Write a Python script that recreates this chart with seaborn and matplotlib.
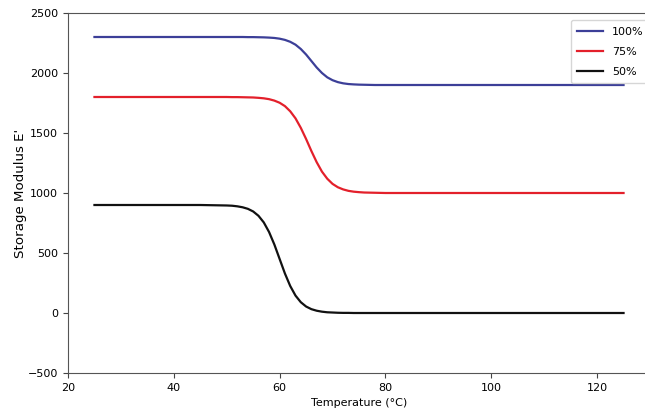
import matplotlib
matplotlib.use("Agg")
import matplotlib.pyplot as plt
import seaborn as sns
import pandas as pd

# temperature samples (deg C)
temperature = [25, 30, 35, 40, 45,
               50, 51, 52, 53, 54, 55, 56, 57, 58, 59,
               60, 61, 62, 63, 64, 65, 66, 67, 68, 69,
               70, 71, 72, 73, 74, 75, 76, 77, 78, 79, 80,
               85, 90, 95, 100, 105, 110, 115, 120, 125]

modulus_100 = [2300, 2300, 2300, 2300, 2300,
               2300, 2300, 2300, 2300, 2299, 2299, 2298, 2297, 2295, 2292,
               2286, 2276, 2260, 2236, 2200, 2154, 2100, 2046, 2000, 1964,
               1940, 1924, 1914, 1908, 1905, 1903, 1902, 1901, 1900, 1900, 1900,
               1900, 1900, 1900, 1900, 1900, 1900, 1900, 1900, 1900]

modulus_75 = [1800, 1800, 1800, 1800, 1800,
              1800, 1799, 1799, 1798, 1797, 1796, 1793, 1789, 1782, 1770,
              1752, 1724, 1681, 1622, 1543, 1450, 1350, 1257, 1178, 1119,
              1076, 1048, 1030, 1018, 1011, 1007, 1004, 1003, 1002, 1001, 1000,
              1000, 1000, 1000, 1000, 1000, 1000, 1000, 1000, 1000]

modulus_50 = [900, 900, 900, 900, 900,
              896, 894, 889, 881, 868, 846, 810, 755, 675, 571,
              450, 329, 225, 145, 90, 54, 32, 19, 11, 6,
              4, 2, 1, 1, 0, 0, 0, 0, 0, 0, 0,
              0, 0, 0, 0, 0, 0, 0, 0, 0]

labels = ['100%', '75%', '50%']
colors = {'100%': '#3c3f98', '75%': '#e3202b', '50%': '#111111'}

df = pd.concat([
    pd.DataFrame({'Temperature': temperature, 'Modulus': vals, 'Series': lab})
    for lab, vals in zip(labels, [modulus_100, modulus_75, modulus_50])
])

plt.style.use('default')
plt.rcParams['font.family'] = ['DejaVu Sans']

fig = plt.figure(figsize=(6.45, 4.18), dpi=100)
# axes run past the right edge, as in the cropped original
ax = fig.add_axes([68 / 645, 45 / 418, 582 / 645, 360 / 418])

sns.lineplot(data=df, x='Temperature', y='Modulus', hue='Series',
             hue_order=labels, palette=colors, linewidth=1.6, ax=ax)

ax.set_xlim(20, 130)
ax.set_ylim(-500, 2500)
ax.set_xticks([20, 40, 60, 80, 100, 120])
ax.set_yticks([-500, 0, 500, 1000, 1500, 2000, 2500])
ax.tick_params(labelsize=8, color='#444444')
ax.set_xlabel('Temperature (°C)', fontsize=8)
ax.set_ylabel("Storage Modulus E'", fontsize=9.6, labelpad=1)
for s in ax.spines.values():
    s.set_color('#555555')

handles, labs = ax.get_legend_handles_labels()
ax.legend(handles, labs, loc='upper right', fontsize=8,
          bbox_to_anchor=(1.008, 1 - 20 / 418), bbox_transform=fig.transFigure,
          borderaxespad=0, borderpad=0.6, labelspacing=0.9, handlelength=2.3)

fig.savefig('out.png', dpi=100)
plt.close(fig)
